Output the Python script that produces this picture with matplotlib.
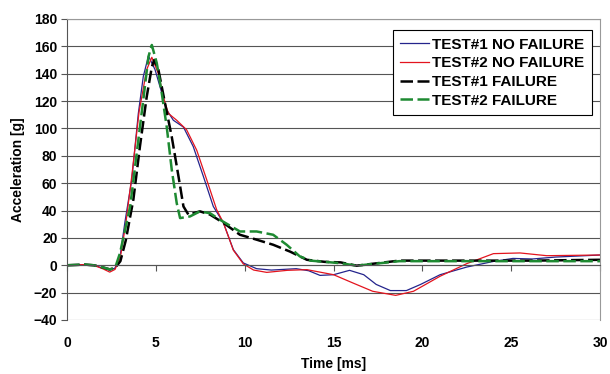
import numpy as np
import matplotlib
matplotlib.use("Agg")
import matplotlib.pyplot as plt
import matplotlib.ticker as ticker

plt.rcParams['font.family'] = ['Liberation Sans', 'DejaVu Sans']

# Time [ms] / Acceleration [g]
t_nf1 = [0, 1.0, 1.5, 2.0, 2.4, 2.7, 3.0, 3.26, 3.64, 4.01, 4.29, 4.58, 4.95, 5.33, 5.61,
         5.98, 6.55, 7.1, 7.67, 8.23, 8.8, 9.36, 9.92, 10.67, 11.5, 12.2, 12.9, 13.6,
         14.24, 15.0, 15.9, 16.7, 17.4, 18.2, 19.1, 19.9, 21.0, 22.5, 24.0, 25.1, 26.2,
         27.5, 30]
a_nf1 = [0, 0.5, 0, -2, -3.5, -2, 8, 32, 62.5, 111, 138, 153, 143, 126, 113.6,
         106, 101, 86.8, 65, 43, 31, 11.4, 1.7, -2.5, -3.5, -3, -2.5, -4,
         -7.4, -6.9, -3.7, -6.9, -14, -18.5, -18.5, -14, -6.9, -1.3, 2.8, 5, 4.6,
         6, 7.5]

t_nf2 = [0, 1.0, 1.5, 2.0, 2.4, 2.7, 3.0, 3.3, 3.64, 4.05, 4.48, 4.77, 5.14, 5.42, 5.7,
         6.17, 6.73, 7.3, 7.86, 8.42, 8.8, 9.36, 9.92, 10.5, 11.24, 12.4, 13.5, 15.0,
         16.1, 17.2, 18.5, 19.5, 21.0, 22.5, 24.0, 25.5, 27.0, 30]
a_nf2 = [0, 0.5, 0, -2.5, -5, -3, 6, 30, 65, 112, 143, 152, 140, 123, 111,
         106, 99, 84, 62.5, 40.6, 31, 11, 1, -3.5, -5.2, -3.7, -3.2, -6.9,
         -13, -19, -22, -19, -8, 1.2, 8.5, 9, 7, 7.5]

t_f1 = [0, 1.0, 1.5, 2.0, 2.4, 2.7, 3.0, 3.3, 3.73, 4.1, 4.48, 4.77, 4.9, 5.14, 5.51,
        5.89, 6.27, 6.55, 6.83, 7.48, 8.05, 8.8, 9.73, 10.67, 11.6, 12.55, 13.5, 14.5,
        15.4, 16.3, 18.7, 22.5, 26.2, 30]
a_f1 = [0, 0.5, 0, -1.5, -3, -2, 3, 18, 48, 86.8, 123, 145, 150, 143, 118.5,
        94, 65, 43, 37, 39.4, 37, 31, 22.3, 18.7, 15, 10, 4, 2.5,
        2.1, -0.3, 3.4, 3.4, 3.4, 4]

t_f2 = [0, 1.0, 1.5, 2.0, 2.4, 2.7, 2.98, 3.55, 3.92, 4.29, 4.58, 4.77, 5.05, 5.33, 5.61,
        5.89, 6.17, 6.36, 6.92, 7.48, 8.05, 8.6, 9.73, 10.67, 11.6, 12.36, 13.1, 13.7,
        15.4, 16.3, 18.7, 22.5, 26.2, 30]
a_f2 = [0, 0.5, 0, -1.5, -3, -2, 9, 43, 82, 121, 152.5, 161, 147.7, 125.8, 101,
        70, 45.5, 34.5, 35.7, 39.4, 38, 33.3, 24.7, 24.7, 22.3, 15, 6.5, 3.4,
        1.5, -0.3, 3, 3, 3, 3]

labels = ["TEST#1 NO FAILURE", "TEST#2 NO FAILURE", "TEST#1 FAILURE", "TEST#2 FAILURE"]

fig = plt.figure(figsize=(6.1, 3.74), dpi=100)
ax = fig.add_axes([0.11, 0.1444, 0.8736, 0.8048])

ax.plot(t_nf1, a_nf1, color='#24248c', lw=0.9, label=labels[0])
ax.plot(t_nf2, a_nf2, color='#e3141e', lw=0.9, label=labels[1])
ax.plot(t_f1, a_f1, color='black', lw=1.8, dashes=(5, 1.8), label=labels[2])
ax.plot(t_f2, a_f2, color='#1e8a32', lw=1.8, dashes=(5, 1.8), label=labels[3])

ax.set_xlim(0, 30)
ax.set_ylim(-40, 180)
ax.xaxis.set_major_locator(ticker.MultipleLocator(5))
ax.yaxis.set_major_locator(ticker.MultipleLocator(20))
ax.yaxis.grid(True, color='#555555', lw=0.8)
ax.set_axisbelow(True)

ax.spines['bottom'].set_position(('data', 0))
ax.spines['bottom'].set_color('#555555')
ax.spines['left'].set_color('#555555')
ax.spines['top'].set_color('#999999')
ax.spines['right'].set_color('#999999')
ax.tick_params(axis='x', direction='out', length=4, color='#555555', pad=47)
ax.tick_params(axis='y', direction='out', length=4, color='#555555', pad=3)
for lab in ax.get_xticklabels() + ax.get_yticklabels():
    lab.set_fontweight('bold')
    lab.set_fontsize(10)

ax.set_xlabel("Time [ms]", fontsize=10, fontweight='bold', labelpad=5)
ax.set_ylabel("Acceleration [g]", fontsize=10, fontweight='bold', labelpad=6)

leg = ax.legend(loc='upper right', bbox_to_anchor=(0.985, 0.963), fancybox=False,
                edgecolor='black', framealpha=1, handlelength=1.9, handletextpad=0.2,
                labelspacing=0.3, borderpad=0.5, borderaxespad=0,
                prop={'weight': 'bold', 'size': 11})
leg.get_frame().set_linewidth(0.8)

fig.savefig("out.png", dpi=100)
